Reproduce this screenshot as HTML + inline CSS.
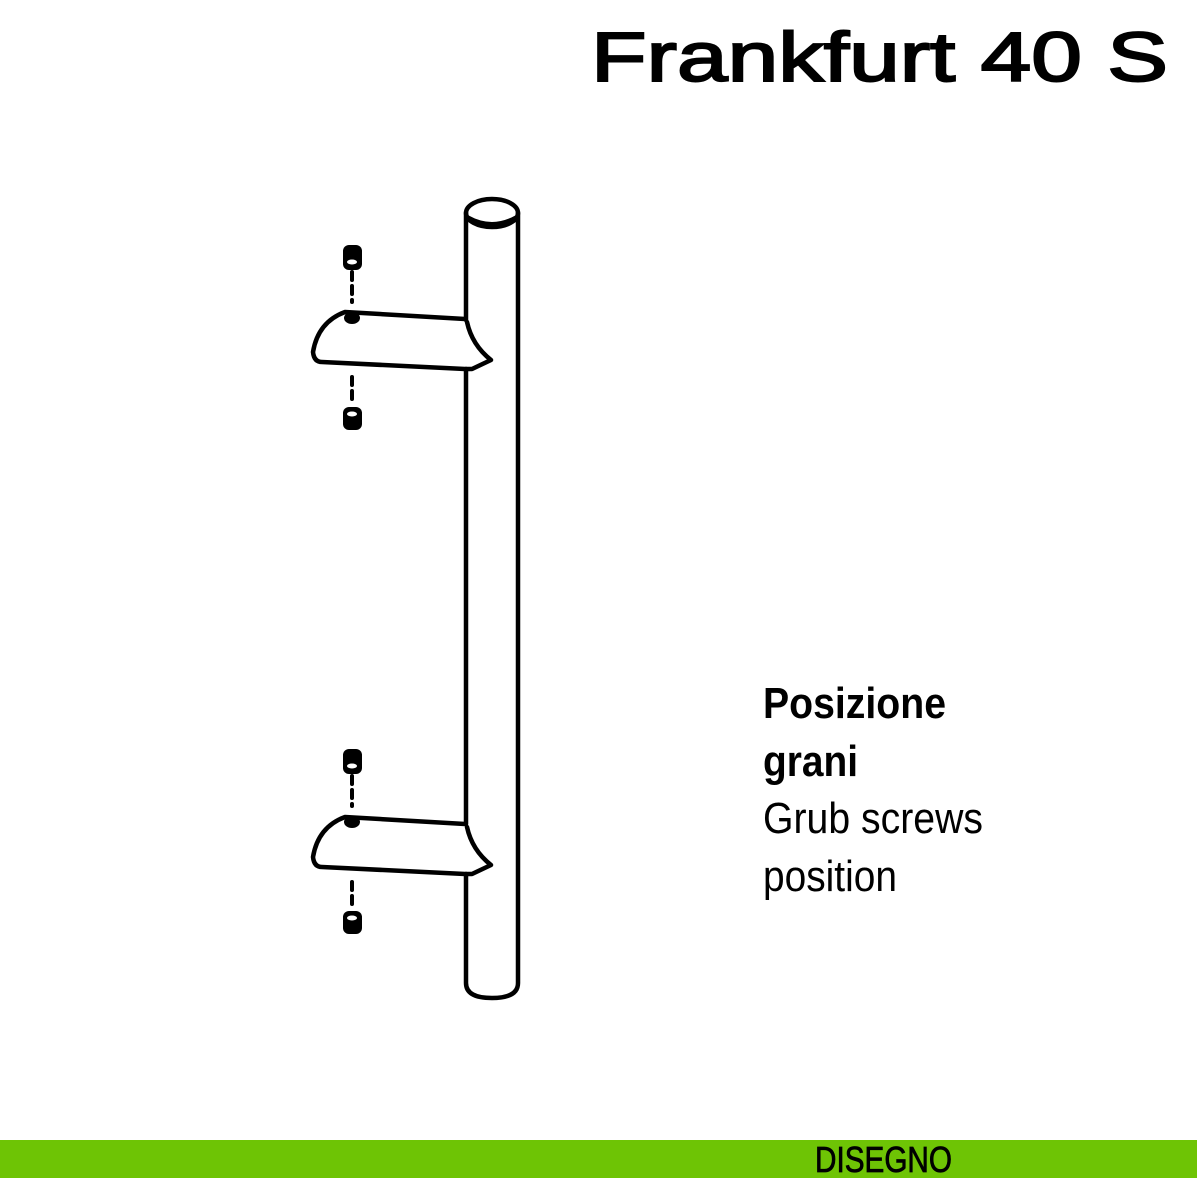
<!DOCTYPE html>
<html><head><meta charset="utf-8"><style>
html,body{margin:0;padding:0;background:#fff;width:1200px;height:1200px;overflow:hidden}
svg{display:block}
</style></head><body>
<svg width="1200" height="1200" viewBox="0 0 1200 1200" xmlns="http://www.w3.org/2000/svg">
<text x="591" y="81" font-family="Liberation Sans, sans-serif" font-size="70" stroke="#000" stroke-width="2" textLength="577" lengthAdjust="spacingAndGlyphs" fill="#000">Frankfurt 40 S</text>

<g fill="none" stroke="#000" stroke-width="4.5" stroke-linecap="round" stroke-linejoin="round">
  <ellipse cx="492" cy="213" rx="26" ry="14" fill="#fff"/>
  <path d="M467 218 Q492 232 517 218" stroke-width="6"/>
  <path d="M466 213 V320 M466 369 V824 M466 874 V983 Q466 998 492 998 Q518 998 518 983 V213"/>
  <path d="M465 319 L345 312 Q318 322 313 352 Q314 362 322 362 L465 369 L472 369 L491 360 Q472 345 467 322"/>
  <path d="M465 824 L345 817 Q318 827 313 857 Q314 867 322 867 L465 874 L472 874 L491 865 Q472 850 467 827"/>
  <path d="M352 272 V302 M352 377 V402 M352 776 V806 M352 882 V906" stroke-dasharray="8 6" stroke-width="4"/>
</g>
<g fill="#000">
  <rect x="343" y="245" width="19" height="25" rx="6"/>
  <ellipse cx="352" cy="318" rx="8" ry="6"/>
  <rect x="343" y="407" width="19" height="23" rx="6"/>
  <rect x="343" y="749" width="19" height="25" rx="6"/>
  <ellipse cx="352" cy="822" rx="8" ry="6"/>
  <rect x="343" y="911" width="19" height="23" rx="6"/>
</g>
<g fill="#fff">
  <ellipse cx="352" cy="262" rx="5" ry="2.5"/>
  <ellipse cx="352" cy="414" rx="5" ry="2.5"/>
  <ellipse cx="352" cy="766" rx="5" ry="2.5"/>
  <ellipse cx="352" cy="918" rx="5" ry="2.5"/>
</g>

<g font-family="Liberation Sans, sans-serif" font-size="44" fill="#000">
  <text x="763" y="718" font-weight="bold" textLength="183" lengthAdjust="spacingAndGlyphs">Posizione</text>
  <text x="763" y="776" font-weight="bold" textLength="95" lengthAdjust="spacingAndGlyphs">grani</text>
  <text x="763" y="833" textLength="220" lengthAdjust="spacingAndGlyphs">Grub screws</text>
  <text x="763" y="891" textLength="134" lengthAdjust="spacingAndGlyphs">position</text>
</g>

<rect x="0" y="1140" width="1197" height="38" fill="#6ec405"/>
<text x="815" y="1172" font-family="Liberation Sans, sans-serif" font-size="36" stroke="#000" stroke-width="0.8" textLength="137" lengthAdjust="spacingAndGlyphs" fill="#000">DISEGNO</text>
</svg>
</body></html>
